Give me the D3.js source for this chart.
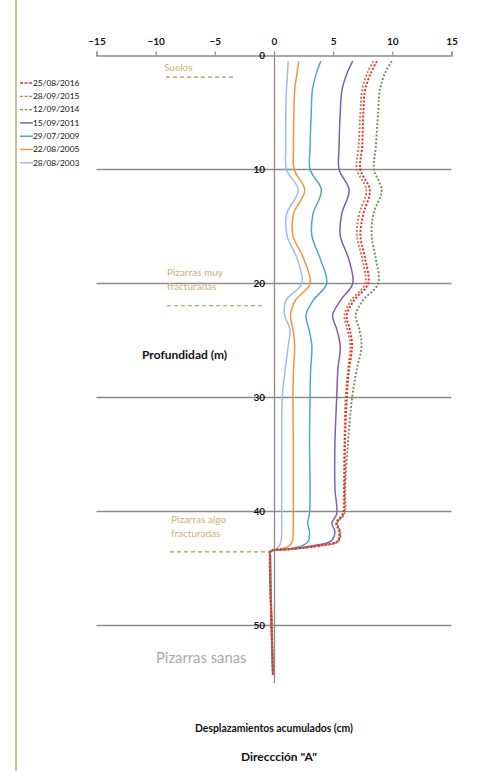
<!DOCTYPE html>
<html>
<head>
<meta charset="utf-8">
<script src="https://cdn.jsdelivr.net/npm/d3@7"></script>
<style>
  html, body { margin: 0; padding: 0; background: #fff; }
  svg { display: block; font-family: Lato, "Open Sans", sans-serif; }
</style>
</head>
<body>
<svg id="chart" width="486" height="771"></svg>
<script>
// Inclinometer profile: accumulated displacement (cm) vs depth (m)
const depths = [0.5, 1.5, 3, 5, 8, 10, 11.8, 13.9, 15.8, 17.8, 20, 21.5, 22.8, 24, 25.5, 27.5, 30, 34, 38, 40.2, 41, 41.8, 42.6, 43.0, 43.3, 43.5, 44, 47, 50, 54.3];

const d2003 = [1.2, 1.15, 1.05, 1.0, 1.0, 1.05, 2.05, 1.07, 1.1, 1.95, 2.35, 1.0, 0.9, 1.35, 1.2, 0.95, 0.7, 0.65, 0.65, 0.65, 0.65, 0.65, 0.6, 0.45, 0.15, -0.3, -0.3, -0.25, -0.15, -0.05];
const d2005 = [2.1, 1.95, 1.75, 1.68, 1.65, 1.7, 2.6, 1.65, 1.6, 2.5, 3.05, 1.8, 1.4, 1.6, 1.75, 1.65, 1.6, 1.63, 1.63, 1.63, 1.63, 1.62, 1.55, 1.3, 0.6, -0.3, -0.3, -0.25, -0.2, -0.1];
const d2009 = [3.95, 3.6, 3.25, 3.15, 3.05, 3.05, 4.0, 3.3, 3.2, 3.9, 4.45, 3.3, 2.7, 2.95, 3.2, 3.1, 3.05, 3.0, 3.05, 3.0, 2.85, 3.0, 2.9, 2.4, 1.0, -0.3, -0.3, -0.25, -0.2, -0.05];
const d2011 = [6.65, 6.2, 5.75, 5.6, 5.5, 5.5, 6.35, 5.72, 5.6, 6.3, 6.65, 5.6, 4.95, 5.3, 5.6, 5.4, 5.3, 5.15, 5.15, 5.3, 4.9, 5.15, 4.8, 3.3, 1.3, -0.3, -0.35, -0.3, -0.25, -0.1];
const d2014 = [9.95, 9.4, 8.95, 8.8, 8.6, 8.45, 9.1, 8.4, 8.25, 8.6, 8.8, 7.5, 6.9, 7.2, 7.4, 7.0, 6.6, 6.25, 6.0, 5.95, 5.35, 5.6, 5.45, 3.9, 1.5, -0.3, -0.35, -0.3, -0.2, -0.1];
const d2015 = [8.4, 7.9, 7.45, 7.3, 7.15, 7.0, 7.8, 7.2, 7.0, 7.45, 7.7, 6.5, 5.95, 6.2, 6.45, 6.25, 6.05, 5.95, 5.9, 5.8, 5.25, 5.5, 5.35, 3.7, 1.45, -0.3, -0.35, -0.3, -0.2, -0.1];
const d2016 = [8.7, 8.2, 7.7, 7.55, 7.45, 7.3, 8.1, 7.55, 7.3, 7.7, 7.95, 6.75, 6.15, 6.4, 6.6, 6.35, 6.15, 6.0, 5.95, 5.85, 5.3, 5.55, 5.4, 3.8, 1.5, -0.3, -0.35, -0.3, -0.2, -0.1];

const seriesNames = ["25/08/2016", "28/09/2015", "12/09/2014", "15/09/2011", "29/07/2009", "22/08/2005", "28/08/2003"];
const seriesValues = [d2016, d2015, d2014, d2011, d2009, d2005, d2003];
const seriesColors = ["#ff2020", "#c47a4e", "#7d8b5f", "#7f62a6", "#4fa9bf", "#f39443", "#a6bbe0"];
const seriesDashed = [true, true, true, false, false, false, false];

const xTicks = [-15, -10, -5, 0, 5, 10, 15];
const yTicks = [0, 10, 20, 30, 40, 50];

const svg = d3.select("#chart");

const x = d3.scaleLinear().domain([-15, 15]).range([96.5, 451.5]);
const y = d3.scaleLinear().domain([0, 55]).range([55.5, 682.5]);

// left frame border
svg.append("line")
  .attr("x1", 16).attr("x2", 16).attr("y1", 0).attr("y2", 771)
  .attr("stroke", "#c5c09c").attr("stroke-width", 2);

// horizontal gridlines
svg.append("g").selectAll("line")
  .data(yTicks.filter(t => t > 0))
  .join("line")
  .attr("x1", x(-15)).attr("x2", x(15))
  .attr("y1", d => y(d)).attr("y2", d => y(d))
  .attr("stroke", "#8c8c8c").attr("stroke-width", 1.3);

// top displacement axis
const xAxis = d3.axisTop(x).tickValues(xTicks).tickSize(4).tickPadding(7).tickFormat(d3.format("d"));
const gx = svg.append("g").attr("transform", `translate(0,${y(0)})`).call(xAxis);
gx.select(".domain").attr("stroke", "#8c8c8c").attr("stroke-width", 1.3);
gx.selectAll(".tick line").attr("stroke", "#8c8c8c").attr("stroke-width", 1.2);
gx.selectAll(".tick text")
  .attr("font-family", "Lato, sans-serif").attr("font-size", 10).attr("font-weight", "bold").attr("fill", "#111");

// vertical depth axis at zero displacement
const yAxis = d3.axisLeft(y).tickValues(yTicks).tickSize(0).tickPadding(9).tickFormat(d3.format("d"));
const gy = svg.append("g").attr("transform", `translate(${x(0)},0)`).call(yAxis);
gy.select(".domain").attr("stroke", "#8c8c8c").attr("stroke-width", 1.3);
gy.selectAll(".tick text")
  .attr("font-family", "Lato, sans-serif").attr("font-size", 10).attr("font-weight", "bold").attr("fill", "#111");

// geology annotations
const tan = "#c9b27a";
const tanLine = "#a8985a";
function note(lines, tx, ty, lh) {
  const t = svg.append("text").attr("x", tx).attr("y", ty)
    .attr("font-size", 10).attr("fill", tan);
  lines.forEach((s, i) => t.append("tspan").attr("x", tx).attr("dy", i === 0 ? 0 : lh).text(s));
}
function boundary(x1, x2, depth) {
  svg.append("line").attr("x1", x1).attr("x2", x2).attr("y1", y(depth)).attr("y2", y(depth))
    .attr("stroke", tanLine).attr("stroke-width", 1.2).attr("stroke-dasharray", "4,3");
}
note(["Suelos"], 164, 71, 0);
boundary(166, 236, 1.9);
note(["Pizarras muy", "fracturadas"], 167, 276, 14);
boundary(167, 265, 21.95);
note(["Pizarras algo", "fracturadas"], 171, 523, 13.5);
boundary(170, 272, 43.55);

svg.append("text").attr("x", 156).attr("y", 663)
  .attr("font-size", 14.8).attr("fill", "#a8a8a8").text("Pizarras sanas");

// axis titles
svg.append("text").attr("x", 142).attr("y", 359)
  .attr("font-size", 12).attr("font-weight", "bold").attr("fill", "#111").text("Profundidad (m)");
svg.append("text").attr("x", 195).attr("y", 732)
  .attr("font-size", 10.4).attr("font-weight", "bold").attr("fill", "#111").text("Desplazamientos acumulados (cm)");
svg.append("text").attr("x", 241).attr("y", 761)
  .attr("font-size", 12).attr("font-weight", "bold").attr("fill", "#111").text("Direccción \"A\"");

// profiles
const line = d3.line()
  .x(d => x(d[1]))
  .y(d => y(d[0]))
  .curve(d3.curveCatmullRom.alpha(0.5));

const order = d3.range(seriesNames.length).reverse();
svg.append("g").selectAll("path")
  .data(order)
  .join("path")
  .attr("d", i => line(depths.map((dep, k) => [dep, seriesValues[i][k]])))
  .attr("fill", "none")
  .attr("stroke", i => seriesColors[i])
  .attr("stroke-width", i => seriesDashed[i] ? 1.9 : 1.5)
  .attr("stroke-dasharray", i => seriesDashed[i] ? "2,1.8" : null)
  .attr("stroke-linejoin", "round");

// legend
const legend = svg.append("g").attr("transform", "translate(20,83)");
const item = legend.selectAll("g").data(seriesNames).join("g")
  .attr("transform", (d, i) => `translate(0,${i * 13.3})`);
item.append("line")
  .attr("x1", 0).attr("x2", 13).attr("y1", 0).attr("y2", 0)
  .attr("stroke", (d, i) => seriesColors[i])
  .attr("stroke-width", (d, i) => seriesDashed[i] ? 1.3 : 1.5)
  .attr("stroke-dasharray", (d, i) => seriesDashed[i] ? "3,1.5" : null);
item.append("text").attr("x", 13).attr("y", 2.8)
  .attr("font-size", 8.4).attr("fill", "#111").text(d => d);
</script>
</body>
</html>
